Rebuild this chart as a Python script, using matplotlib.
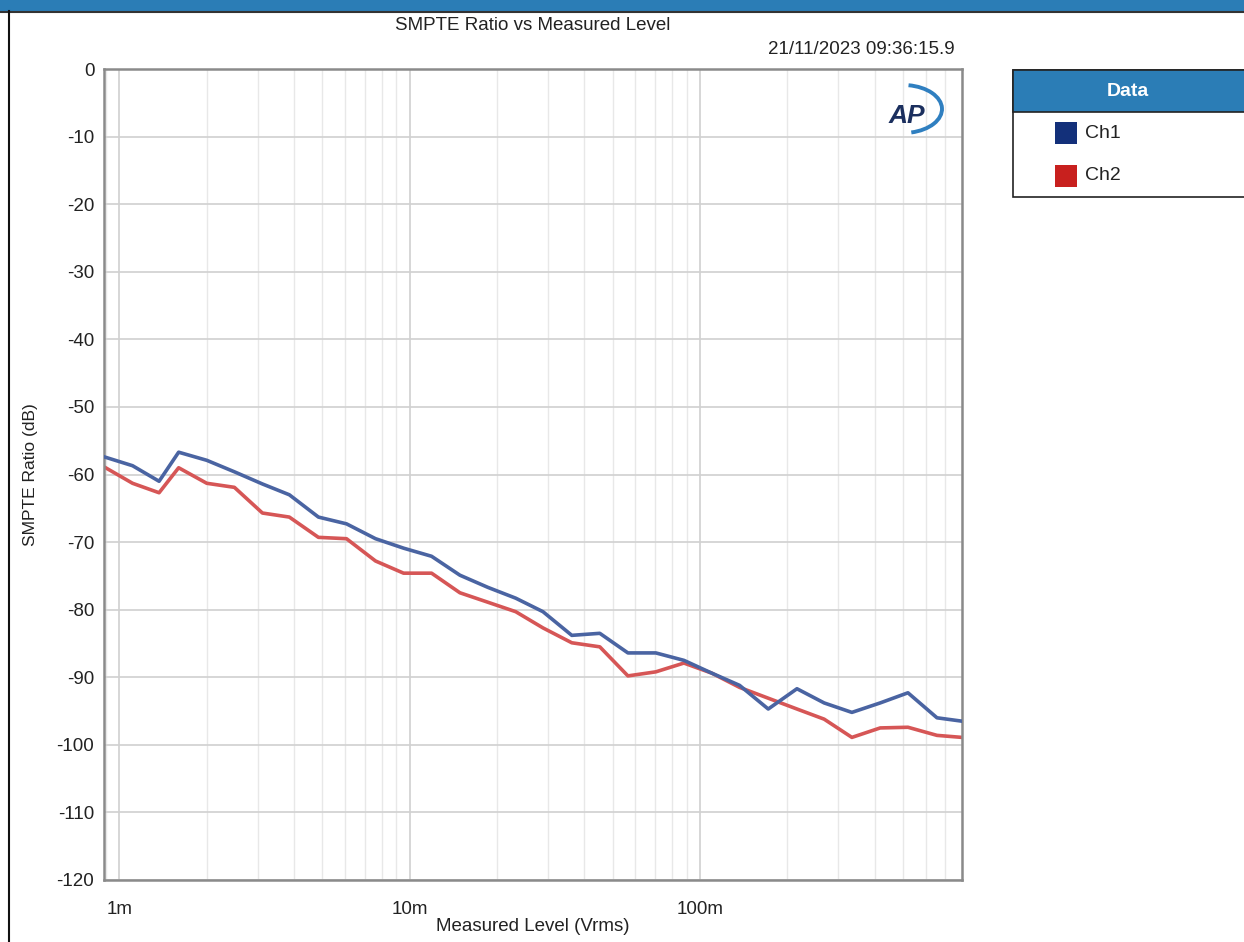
import matplotlib
matplotlib.use("Agg")
import matplotlib.pyplot as plt
import numpy as np
from matplotlib.patches import Rectangle, Arc
from matplotlib.ticker import FixedLocator, NullFormatter

plt.rcParams['font.family'] = ['Liberation Sans', 'DejaVu Sans']
plt.rcParams['axes.unicode_minus'] = False

# 测量电平 (Vrms)
level = [0.000888, 0.00111, 0.00137, 0.00160, 0.00200, 0.00249, 0.00311, 0.00385,
         0.00485, 0.00606, 0.00763, 0.00953, 0.0119, 0.0149, 0.0186, 0.0232,
         0.0288, 0.0362, 0.0452, 0.0565, 0.0705, 0.0881, 0.110, 0.137,
         0.172, 0.216, 0.268, 0.334, 0.418, 0.521, 0.656, 0.800]

# SMPTE 比率 (dB)
ch1 = [-57.4, -58.7, -61.0, -56.7, -57.9, -59.6, -61.4, -63.0,
       -66.3, -67.3, -69.5, -70.9, -72.1, -74.9, -76.7, -78.3,
       -80.3, -83.8, -83.5, -86.4, -86.4, -87.5, -89.4, -91.2,
       -94.7, -91.7, -93.8, -95.2, -93.8, -92.3, -96.0, -96.5]
ch2 = [-58.9, -61.3, -62.7, -59.0, -61.3, -61.9, -65.7, -66.3,
       -69.3, -69.5, -72.8, -74.6, -74.6, -77.5, -78.9, -80.3,
       -82.7, -84.9, -85.5, -89.8, -89.2, -87.9, -89.4, -91.5,
       -93.1, -94.7, -96.2, -98.9, -97.5, -97.4, -98.6, -98.9]

y_ticks = list(range(0, -121, -10))
x_ticks = [0.001, 0.01, 0.1]
x_labels = ['1m', '10m', '100m']
series_names = ['Ch1', 'Ch2']

W, H = 1244, 942
fig = plt.figure(figsize=(W / 100, H / 100), dpi=100)
fig.patch.set_facecolor('white')

# 顶部蓝色标题栏和左侧边框
fig.patches.append(Rectangle((0, 1 - 11 / H), 1, 11 / H, transform=fig.transFigure,
                             facecolor='#2b7db6', edgecolor='none', zorder=0))
fig.add_artist(plt.Line2D([0, 1], [1 - 11.5 / H, 1 - 11.5 / H], transform=fig.transFigure,
                          color='#333333', lw=1.5))
fig.add_artist(plt.Line2D([8.5 / W, 8.5 / W], [0, 1 - 11 / H], transform=fig.transFigure,
                          color='#111111', lw=1.5))

ax = fig.add_axes([104 / W, 62 / H, (962 - 104) / W, (880 - 69) / H])
ax.set_xscale('log')
ax.set_xlim(0.000885, 0.800)
ax.set_ylim(-120, 0)

ax.plot(level, ch1, color='#4a64a2', lw=2.6, zorder=3)
ax.plot(level, ch2, color='#d65656', lw=2.6, zorder=2)

ax.yaxis.set_major_locator(FixedLocator(y_ticks))
ax.xaxis.set_major_locator(FixedLocator(x_ticks))
ax.xaxis.set_minor_locator(FixedLocator(
    [m * 10.0 ** e for e in (-4, -3, -2, -1) for m in range(2, 10)]))
ax.xaxis.set_minor_formatter(NullFormatter())
ax.set_xticklabels(x_labels)
ax.grid(True, which='major', color='#d0d0d0', lw=1.2)
ax.grid(True, which='minor', axis='x', color='#e8e8e8', lw=1.0)
ax.tick_params(which='both', length=0, labelsize=13.5, colors='#222222')
ax.tick_params(axis='y', pad=7)
ax.tick_params(axis='x', pad=15)
for s in ax.spines.values():
    s.set_color('#8a8a8a')
    s.set_linewidth(1.8)

ax.set_xlabel('Measured Level (Vrms)', fontsize=13.5, color='#222222', labelpad=0)
ax.set_ylabel('SMPTE Ratio (dB)', fontsize=12.5, color='#222222', labelpad=13)

fig.text(533 / W, 1 - 25 / H, 'SMPTE Ratio vs Measured Level', ha='center', va='center',
         fontsize=13.5, color='#222222')
fig.text(955 / W, 1 - 50 / H, '21/11/2023 09:36:15.9', ha='right', va='center',
         fontsize=13.5, color='#222222')

# AP 标志
ax.text(0.957, 0.942, 'AP', transform=ax.transAxes, ha='right', va='center',
        fontsize=19, fontweight='bold', style='italic', color='#1b2f5e')
fig.patches.append(Arc((903 / W, 1 - 109 / H), 78 / W, 48 / H, theta1=-75, theta2=80,
                       transform=fig.transFigure, color='#2f7fc0', lw=2.8))

# 图例框
lx0 = 1013
fig.patches.append(Rectangle((lx0 / W, 1 - 197 / H), (W - lx0 + 5) / W, 127 / H,
                             transform=fig.transFigure, facecolor='white',
                             edgecolor='#222222', lw=1.2, zorder=1))
fig.patches.append(Rectangle((lx0 / W, 1 - 112 / H), (W - lx0 + 5) / W, 42 / H,
                             transform=fig.transFigure, facecolor='#2b7db6',
                             edgecolor='#222222', lw=1.2, zorder=2))
fig.text(1128 / W, 1 - 91 / H, 'Data', ha='center', va='center', fontsize=14,
         fontweight='bold', color='white', zorder=3)
for name, col, yy in zip(series_names, ['#13307a', '#c8201e'], [133, 176]):
    fig.patches.append(Rectangle((1055 / W, 1 - (yy + 11) / H), 22 / W, 22 / H,
                                 transform=fig.transFigure, facecolor=col,
                                 edgecolor='none', zorder=3))
    fig.text(1085 / W, 1 - yy / H, name, ha='left', va='center', fontsize=14,
             color='#222222', zorder=3)

fig.savefig('out.png', dpi=100)
